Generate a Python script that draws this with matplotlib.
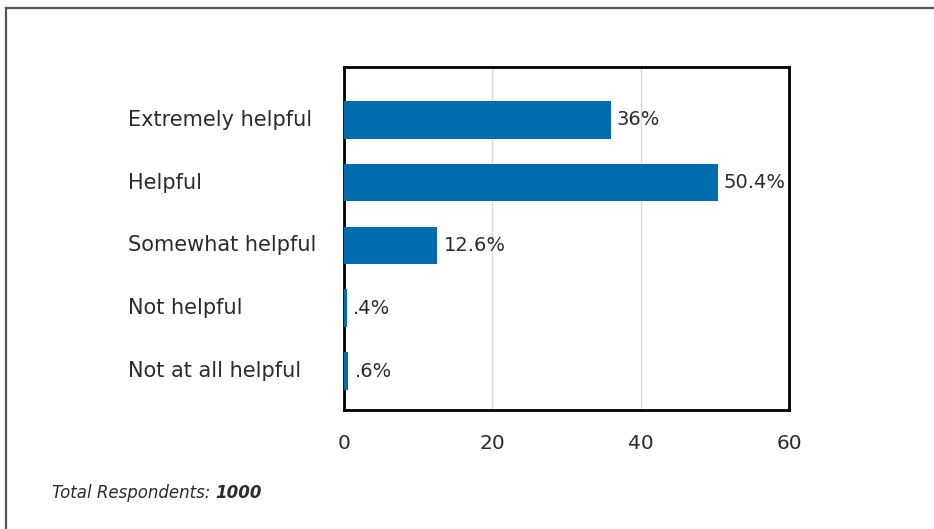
import matplotlib
matplotlib.use("Agg")
import matplotlib.pyplot as plt
from matplotlib.lines import Line2D

categories = ["Extremely helpful", "Helpful", "Somewhat helpful", "Not helpful", "Not at all helpful"]
values = [36, 50.4, 12.6, 0.4, 0.6]
value_labels = ["36%", "50.4%", "12.6%", ".4%", ".6%"]
x_ticks = [0, 20, 40, 60]
respondents = "1000"

plt.rcParams["font.family"] = ["DejaVu Sans"]
TEXT = "#2b2b2b"
BLUE = "#006db0"

fig = plt.figure(figsize=(9.34, 5.29), dpi=100)
W, H = 934, 529

# outer frame (only top and left edges show)
fig.add_artist(Line2D([5.5 / W, 1], [1 - 7.5 / H, 1 - 7.5 / H], color="#555555", lw=1.6))
fig.add_artist(Line2D([5.5 / W, 5.5 / W], [0, 1 - 7.5 / H], color="#555555", lw=1.6))

ax = fig.add_axes([344 / W, 1 - 410 / H, (789 - 344) / W, (410 - 67) / H])
ypos = list(range(len(categories)))
ax.barh(ypos, values, height=0.6, color=BLUE, zorder=3)
ax.set_xlim(0, 60)
ax.set_ylim(4.62, -0.84)
ax.set_xticks(x_ticks)
ax.set_xticklabels([str(t) for t in x_ticks], fontsize=14.5, color=TEXT)
ax.tick_params(axis="x", length=0, pad=17)
ax.set_yticks([])
ax.grid(axis="x", color="#d9d9d9", lw=1, zorder=0)
for s in ax.spines.values():
    s.set_linewidth(2)
    s.set_color("black")

for y, v, lab in zip(ypos, values, value_labels):
    ax.text(v + 0.8, y, lab, va="center", ha="left", fontsize=14, color=TEXT, zorder=4)

# category labels, left-aligned in the margin
for y, cat in zip(ypos, categories):
    ypix = ax.transData.transform((0, y))[1]
    fig.text(128 / W, ypix / H, cat, va="center", ha="left", fontsize=15, color=TEXT)

t1 = fig.text(52 / W, 1 - 493 / H, "Total Respondents: ", fontsize=12, style="italic",
              color=TEXT, va="center", ha="left")
ax.annotate(respondents, xy=(1, 0.5), xycoords=t1, va="center", ha="left",
            fontsize=12, style="italic", weight="bold", color=TEXT, annotation_clip=False)

fig.savefig("out.png", dpi=100)
